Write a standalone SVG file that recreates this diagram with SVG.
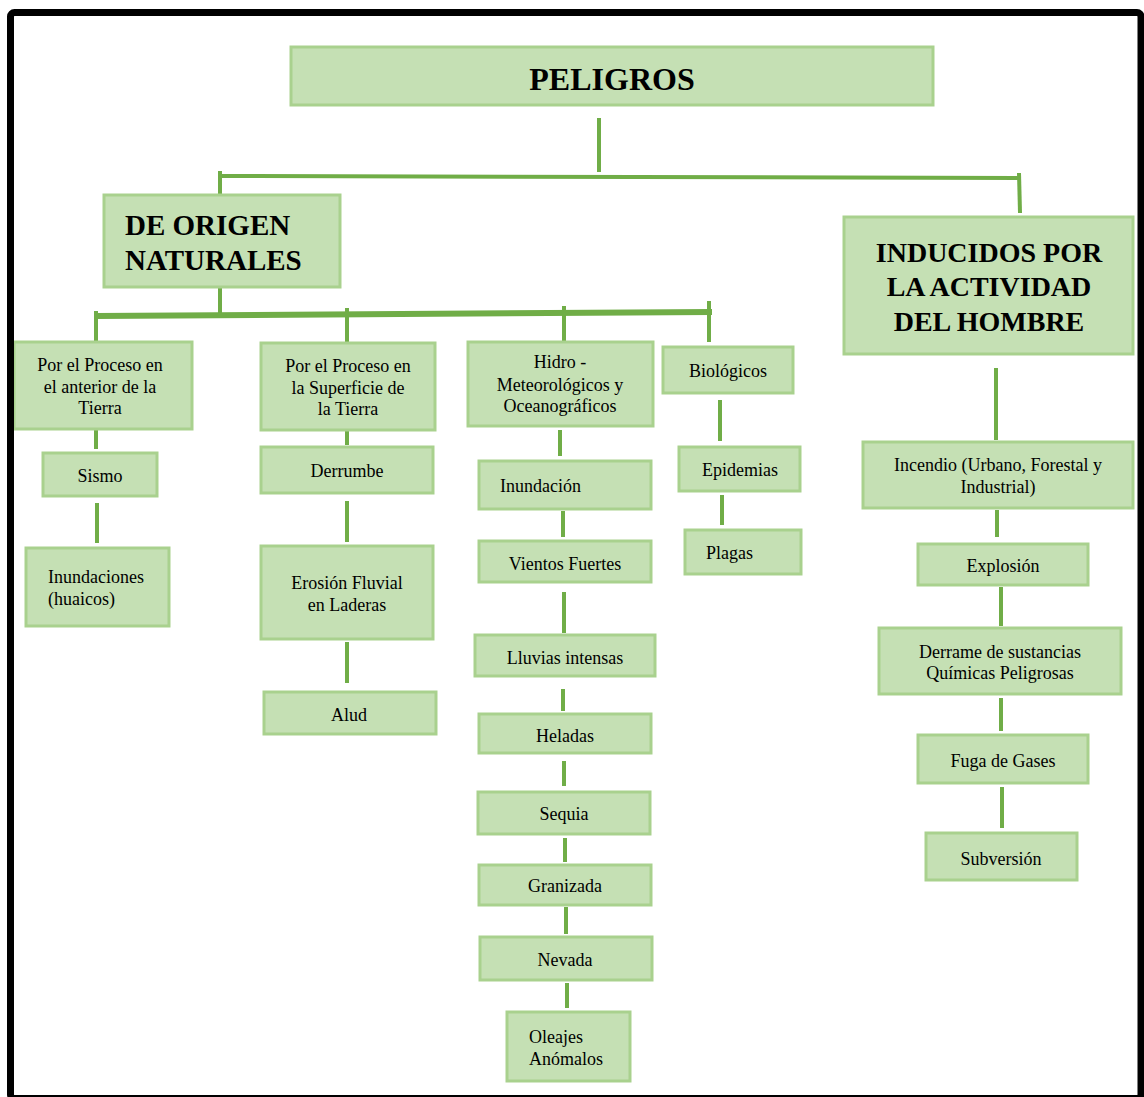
<svg xmlns="http://www.w3.org/2000/svg" width="1144" height="1097" viewBox="0 0 1144 1097">
<style>
.b{fill:#C5E0B4;stroke:#A9D18E;stroke-width:3}
.t{font-family:"Liberation Serif","Times New Roman",serif;font-size:18px;fill:#000}
.m{text-anchor:middle}
.h{font-family:"Liberation Serif","Times New Roman",serif;font-weight:bold;fill:#000}
.c{stroke:#70AD47;stroke-width:4;fill:none}
</style>
<rect width="1144" height="1097" fill="#fff"/>
<g id="connectors" class="c">
<line x1="599" y1="118" x2="599" y2="172"/>
<line x1="219" y1="176" x2="1020" y2="178"/>
<line x1="220" y1="171" x2="220" y2="195"/>
<line x1="1019" y1="173" x2="1020" y2="213"/>
<line x1="220" y1="287" x2="220" y2="314"/>
<line x1="96" y1="316" x2="712" y2="312" stroke-width="6"/>
<line x1="96" y1="311" x2="96" y2="341"/>
<line x1="347" y1="308" x2="347" y2="343"/>
<line x1="564" y1="306" x2="564" y2="342"/>
<line x1="709" y1="301" x2="709" y2="342"/>
<line x1="96" y1="428" x2="96" y2="449"/>
<line x1="97" y1="503" x2="97" y2="543"/>
<line x1="347" y1="422" x2="347" y2="445"/>
<line x1="347" y1="501" x2="347" y2="542"/>
<line x1="347" y1="642" x2="347" y2="683"/>
<line x1="560" y1="430" x2="560" y2="456"/>
<line x1="563" y1="511" x2="563" y2="537"/>
<line x1="564" y1="592" x2="564" y2="633"/>
<line x1="563" y1="689" x2="563" y2="711"/>
<line x1="564" y1="761" x2="564" y2="786"/>
<line x1="565" y1="838" x2="565" y2="862"/>
<line x1="566" y1="907" x2="566" y2="934"/>
<line x1="567" y1="983" x2="567" y2="1008"/>
<line x1="720" y1="400" x2="720" y2="441"/>
<line x1="722" y1="495" x2="722" y2="525"/>
<line x1="996" y1="368" x2="996" y2="440"/>
<line x1="997" y1="510" x2="997" y2="537"/>
<line x1="1001" y1="587" x2="1001" y2="626"/>
<line x1="1001" y1="698" x2="1001" y2="731"/>
<line x1="1002" y1="787" x2="1002" y2="828"/>
</g>
<g id="peligros"><rect class="b" x="291" y="47" width="642" height="58"/><text class="h m" x="612" y="90" font-size="32">PELIGROS</text></g>
<g id="naturales"><rect class="b" x="104" y="195" width="236" height="92"/><text class="h" x="125" y="235" font-size="29">DE ORIGEN</text><text class="h" x="125" y="270" font-size="29">NATURALES</text></g>
<g id="inducidos"><rect class="b" x="844" y="217" width="289" height="137"/><text class="h m" x="989" y="262" font-size="28">INDUCIDOS POR</text><text class="h m" x="989" y="296" font-size="28">LA ACTIVIDAD</text><text class="h m" x="989" y="331" font-size="28">DEL HOMBRE</text></g>
<g id="interior"><rect class="b" x="14" y="342" width="178" height="87"/><text class="t m" x="100" y="371">Por el Proceso en</text><text class="t m" x="100" y="393">el anterior de la</text><text class="t m" x="100" y="414">Tierra</text></g>
<g id="superficie"><rect class="b" x="261" y="343" width="174" height="87"/><text class="t m" x="348" y="372">Por el Proceso en</text><text class="t m" x="348" y="394">la Superficie de</text><text class="t m" x="348" y="415">la Tierra</text></g>
<g id="hidro"><rect class="b" x="468" y="342" width="185" height="84"/><text class="t m" x="560" y="368">Hidro -</text><text class="t m" x="560" y="391">Meteorológicos y</text><text class="t m" x="560" y="412">Oceanográficos</text></g>
<g id="biologicos"><rect class="b" x="663" y="347" width="130" height="46"/><text class="t m" x="728" y="377">Biológicos</text></g>
<g id="sismo"><rect class="b" x="43" y="453" width="114" height="43"/><text class="t m" x="100" y="482">Sismo</text></g>
<g id="inundaciones"><rect class="b" x="26" y="548" width="143" height="78"/><text class="t" x="48" y="583">Inundaciones</text><text class="t" x="48" y="605">(huaicos)</text></g>
<g id="derrumbe"><rect class="b" x="261" y="447" width="172" height="46"/><text class="t m" x="347" y="477">Derrumbe</text></g>
<g id="erosion"><rect class="b" x="261" y="546" width="172" height="93"/><text class="t m" x="347" y="589">Erosión Fluvial</text><text class="t m" x="347" y="611">en Laderas</text></g>
<g id="alud"><rect class="b" x="264" y="692" width="172" height="42"/><text class="t m" x="349" y="721">Alud</text></g>
<g id="inundacion"><rect class="b" x="479" y="461" width="172" height="48"/><text class="t" x="500" y="492">Inundación</text></g>
<g id="vientos"><rect class="b" x="479" y="541" width="172" height="41"/><text class="t m" x="565" y="570">Vientos Fuertes</text></g>
<g id="lluvias"><rect class="b" x="475" y="635" width="180" height="41"/><text class="t m" x="565" y="664">Lluvias intensas</text></g>
<g id="heladas"><rect class="b" x="479" y="714" width="172" height="39"/><text class="t m" x="565" y="742">Heladas</text></g>
<g id="sequia"><rect class="b" x="478" y="792" width="172" height="42"/><text class="t m" x="564" y="820">Sequia</text></g>
<g id="granizada"><rect class="b" x="479" y="865" width="172" height="40"/><text class="t m" x="565" y="892">Granizada</text></g>
<g id="nevada"><rect class="b" x="480" y="937" width="172" height="43"/><text class="t m" x="565" y="966">Nevada</text></g>
<g id="oleajes"><rect class="b" x="507" y="1012" width="123" height="69"/><text class="t" x="529" y="1043">Oleajes</text><text class="t" x="529" y="1065">Anómalos</text></g>
<g id="epidemias"><rect class="b" x="679" y="447" width="121" height="44"/><text class="t m" x="740" y="476">Epidemias</text></g>
<g id="plagas"><rect class="b" x="685" y="530" width="116" height="44"/><text class="t" x="706" y="559">Plagas</text></g>
<g id="incendio"><rect class="b" x="863" y="442" width="270" height="66"/><text class="t m" x="998" y="471">Incendio (Urbano, Forestal y</text><text class="t m" x="998" y="493">Industrial)</text></g>
<g id="explosion"><rect class="b" x="918" y="544" width="170" height="41"/><text class="t m" x="1003" y="572">Explosión</text></g>
<g id="derrame"><rect class="b" x="879" y="628" width="242" height="66"/><text class="t m" x="1000" y="658">Derrame de sustancias</text><text class="t m" x="1000" y="679">Químicas Peligrosas</text></g>
<g id="fuga"><rect class="b" x="918" y="735" width="170" height="48"/><text class="t m" x="1003" y="767">Fuga de Gases</text></g>
<g id="subversion"><rect class="b" x="926" y="833" width="151" height="47"/><text class="t m" x="1001" y="865">Subversión</text></g>
<rect x="10.5" y="12.5" width="1130.5" height="1086" rx="4" fill="none" stroke="#000" stroke-width="7"/>
</svg>
